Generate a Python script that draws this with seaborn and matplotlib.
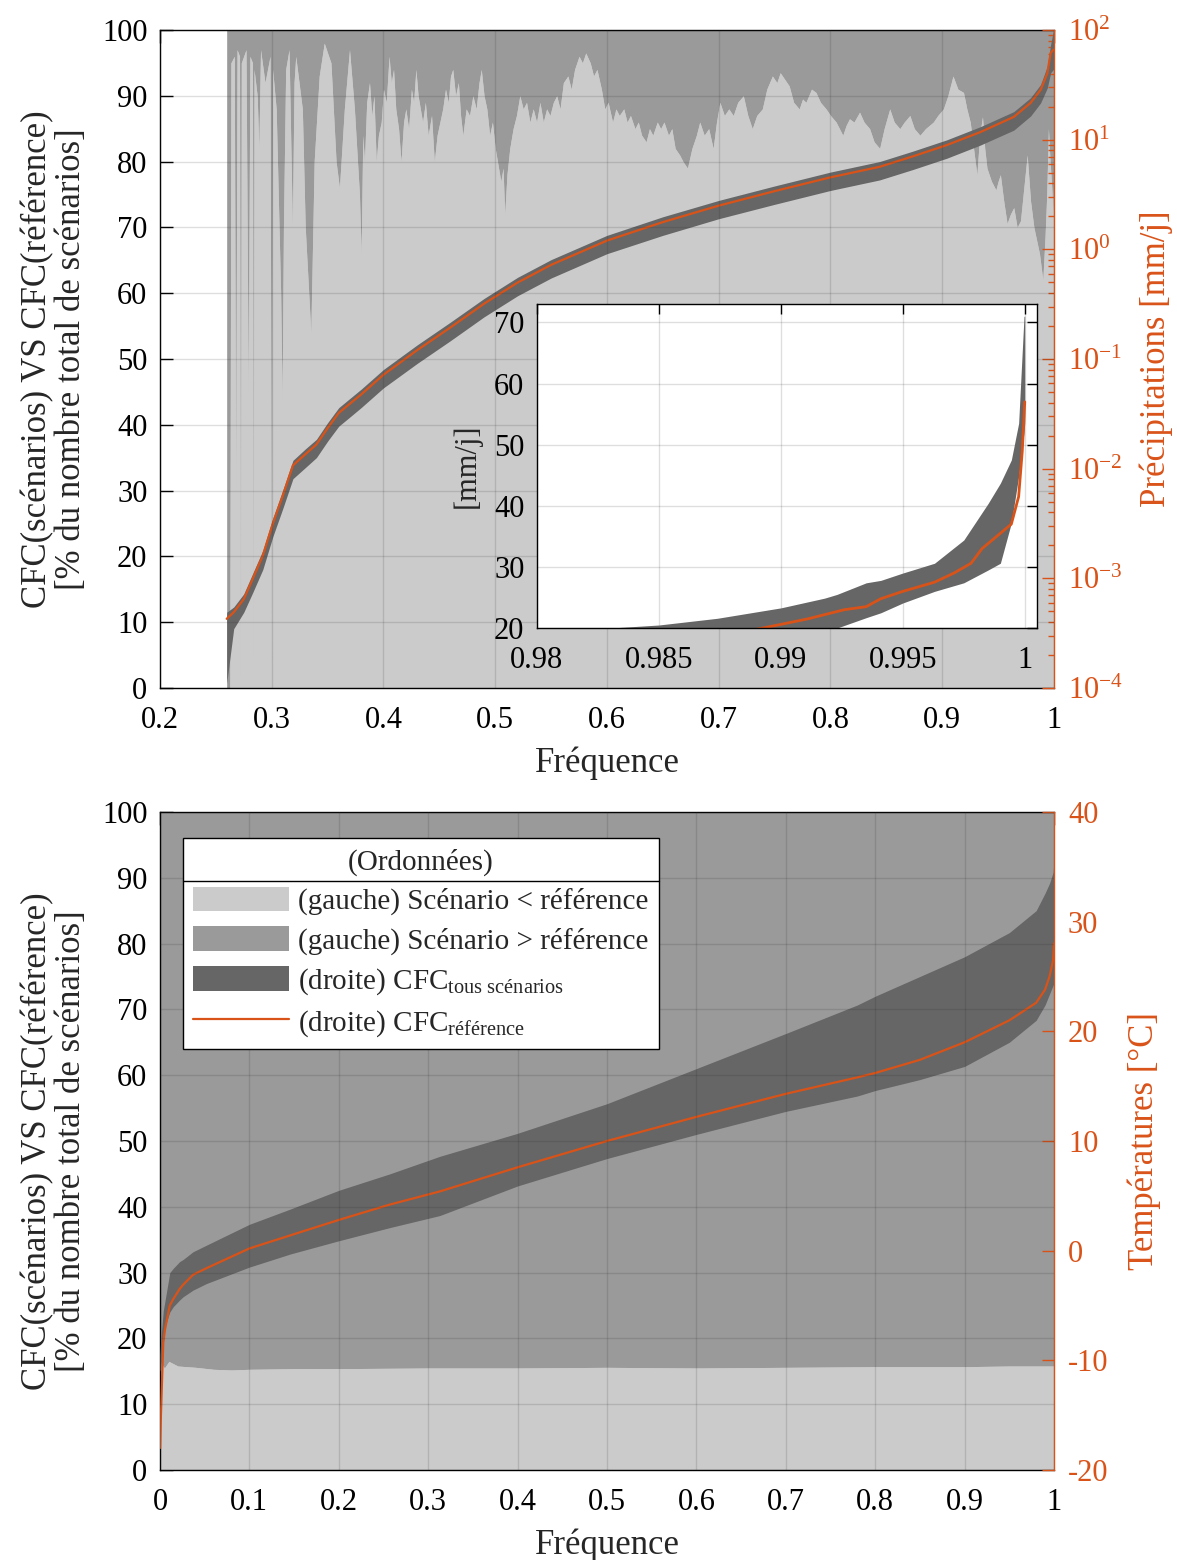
import matplotlib
matplotlib.use('Agg')
import matplotlib.pyplot as plt
import seaborn as sns
from matplotlib.patches import Patch
from matplotlib.lines import Line2D
from matplotlib.ticker import LogLocator, NullFormatter, LogFormatterMathtext

# ---------------- data ----------------
# top panel : share of scenarios below the reference (left axis, %)
freq_split_p = [0.2597, 0.2625, 0.2635, 0.2665, 0.2678, 0.2690, 0.2712, 0.2720, 0.2728, 0.2770,
                0.2790, 0.2805, 0.2828, 0.2835, 0.2842, 0.2870, 0.2885, 0.2900, 0.2940, 0.2985,
                0.2998, 0.3008, 0.3040, 0.3080, 0.3093, 0.3105, 0.3125, 0.3155, 0.3185, 0.3200,
                0.3215, 0.3274, 0.3300, 0.3350, 0.3380, 0.3425, 0.3470, 0.3530, 0.3576, 0.3606,
                0.3650, 0.3696, 0.3740, 0.3785,
                0.3800, 0.3815, 0.3830, 0.3850, 0.3875, 0.3895, 0.3915, 0.3935, 0.3955, 0.3980,
                0.4000, 0.4025, 0.4050, 0.4070, 0.4090, 0.4110, 0.4135, 0.4157, 0.4180, 0.4200,
                0.4225, 0.4250, 0.4270, 0.4290, 0.4310, 0.4330, 0.4350, 0.4375, 0.4400, 0.4430,
                0.4455, 0.4480, 0.4505, 0.4530, 0.4555, 0.4580, 0.4600, 0.4620, 0.4645, 0.4670,
                0.4690, 0.4710, 0.4740, 0.4770, 0.4800, 0.4830, 0.4855, 0.4875, 0.4900, 0.4925,
                0.4950, 0.4975, 0.5000, 0.5020, 0.5050, 0.5070, 0.5085, 0.5105, 0.5130, 0.5160,
                0.5190, 0.5220, 0.5250, 0.5280, 0.5310, 0.5340, 0.5370, 0.5400, 0.5430, 0.5460,
                0.5490, 0.5520, 0.5550, 0.5580, 0.5610, 0.5650, 0.5680, 0.5710, 0.5750, 0.5780,
                0.5810, 0.5850, 0.5880, 0.5910, 0.5950, 0.5980, 0.6010, 0.6050, 0.6080, 0.6110,
                0.6150, 0.6180, 0.6210, 0.6250, 0.6280, 0.6310, 0.6350, 0.6380, 0.6410, 0.6450,
                0.6480, 0.6510, 0.6550, 0.6580, 0.6610, 0.6650, 0.6680, 0.6720, 0.6760, 0.6800,
                0.6830, 0.6870, 0.6910, 0.6950, 0.6980, 0.7010, 0.7050, 0.7090, 0.7130, 0.7170,
                0.7220, 0.7260, 0.7300, 0.7340, 0.7390, 0.7430, 0.7480, 0.7520, 0.7550, 0.7590,
                0.7630, 0.7670, 0.7720, 0.7750, 0.7780, 0.7830, 0.7870, 0.7910, 0.7960, 0.8000,
                0.8050, 0.8080, 0.8110, 0.8140, 0.8170, 0.8210, 0.8260, 0.8300, 0.8350, 0.8390,
                0.8440, 0.8480, 0.8530, 0.8570, 0.8620, 0.8660, 0.8710, 0.8750, 0.8800, 0.8850,
                0.8920, 0.8960, 0.9010, 0.9050, 0.9096, 0.9140, 0.9190, 0.9220, 0.9250, 0.9280,
                0.9310, 0.9335, 0.9360, 0.9380, 0.9400, 0.9440, 0.9480, 0.9500, 0.9520, 0.9550,
                0.9580, 0.9610, 0.9640, 0.9670, 0.9700, 0.9730, 0.9760, 0.9790, 0.9820, 0.9845,
                0.9870, 0.9885, 0.9900, 0.9920, 0.9935, 0.9950, 0.9965, 0.9980, 0.9990, 1.0000]
split_p = [0, 0, 95, 96, 30, 97, 96, 2, 95, 97,
           45, 96, 95, 5, 94, 90, 82, 97, 92, 96,
           3, 94, 88, 60, 44, 70, 94, 97, 70, 92,
           96, 88, 70, 54, 80, 93, 98, 95, 80, 76,
           88, 97, 88, 75,
           66, 84, 80, 89, 92, 87, 90, 80, 84, 86,
           91, 89, 96, 92, 94, 88, 85, 80, 86, 88,
           85, 91, 89, 94, 90, 88, 86, 89, 84, 87,
           80, 84, 86, 88, 91, 89, 93, 94, 90, 92,
           87, 84, 88, 87, 90, 88, 92, 94, 90, 88,
           84, 86, 82, 80, 77, 79, 72, 78, 82, 85,
           87, 90, 88, 89, 86, 88, 86, 89, 86, 88,
           87, 89, 90, 88, 92, 93, 91, 94, 96, 95,
           96.5, 95, 93, 94, 91, 88, 89, 86, 88, 87,
           88, 86, 87, 85, 86, 84, 83, 85, 84, 86,
           85, 86, 84, 85, 82, 81, 80, 79, 82, 84,
           86, 84, 85, 82, 86, 89, 87, 88, 87, 89,
           90, 87, 85, 87, 88, 91, 93, 92, 93.5, 92.5,
           91.5, 89, 88, 89.5, 89, 91, 90.5, 89, 88, 87,
           86, 85, 84, 85.5, 86.5, 86, 87.5, 86, 85, 83,
           82, 85, 88, 86, 85, 86, 87, 85, 84, 85,
           86, 87, 88, 90, 93, 91, 90.5, 88, 86, 82,
           78, 84, 86.8, 82, 79, 77, 75.7, 77, 78, 74,
           70.6, 72, 73, 70, 71, 76, 81, 74, 70, 68,
           66, 64, 62, 68.6, 75, 85, 80, 76, 72, 80]

# top panel : precipitation CDFs (right axis, mm/j)
freq_p = [0.2597, 0.266, 0.275, 0.283, 0.292, 0.301, 0.310, 0.319, 0.33, 0.34,
          0.35, 0.36, 0.37, 0.38, 0.40, 0.43, 0.46, 0.49, 0.52, 0.55,
          0.60, 0.65, 0.70, 0.75, 0.80, 0.844, 0.874, 0.904, 0.934, 0.964,
          0.979, 0.988, 0.994, 0.997, 0.9995, 1.0]
p_ref = [4.27e-4, 4.9e-4, 6.46e-4, 9.9e-4, 1.61e-3, 3.16e-3, 5.73e-3, 0.0107, 0.0135, 0.0166,
         0.0234, 0.0322, 0.0391, 0.0474, 0.0718, 0.12, 0.194, 0.319, 0.497, 0.721,
         1.2, 1.77, 2.5, 3.39, 4.53, 5.65, 7.05, 8.91, 11.7, 16.1,
         21.6, 28.4, 40.2, 61.7, 66, 66]
p_low = [1.1e-4, 3.47e-4, 4.9e-4, 7.41e-4, 1.2e-3, 2.4e-3, 4.35e-3, 8.1e-3, 0.0102, 0.0126,
         0.0178, 0.0244, 0.0296, 0.036, 0.0545, 0.0908, 0.147, 0.242, 0.377, 0.547,
         0.912, 1.34, 1.9, 2.57, 3.44, 4.29, 5.35, 6.76, 8.91, 12.2,
         16.4, 21.6, 29.6, 40.7, 43.7, 43.7]
p_high = [4.9e-4, 5.47e-4, 7.21e-4, 1.107e-3, 1.79e-3, 3.53e-3, 6.4e-3, 0.0119, 0.0151, 0.0185,
          0.0262, 0.036, 0.0437, 0.053, 0.0802, 0.134, 0.217, 0.356, 0.555, 0.805,
          1.34, 1.98, 2.79, 3.78, 5.06, 6.31, 7.87, 9.95, 13.1, 18.0,
          24.1, 31.8, 46.8, 73.8, 100, 100]

# inset : zoom on the highest frequencies (mm/j)
freq_in_ref = [0.988, 0.989, 0.990, 0.9911, 0.9926, 0.9935, 0.9941, 0.9950, 0.9963, 0.9971,
               0.9978, 0.99825, 0.99885, 0.99945, 0.99975, 0.9999, 1.0]
in_ref = [19.5, 19.8, 20.6, 21.5, 23.0, 23.5, 24.8, 26.0, 27.5, 29.0,
          30.6, 33.0, 35.0, 37.0, 41.5, 49.0, 57.0]
freq_in_band = [0.982, 0.983, 0.985, 0.9874, 0.990, 0.9918, 0.9923, 0.9935, 0.9941, 0.9950,
                0.9963, 0.9975, 0.9985, 0.9990, 0.99945, 0.99975, 0.99997, 1.0]
in_low = [14.0, 15.0, 16.0, 17.0, 18.5, 19.6, 20.0, 21.7, 22.5, 24.1,
          26.0, 27.4, 29.5, 30.6, 37.2, 44.8, 52.0, 53.5]
in_high = [19.5, 20.0, 20.5, 21.6, 23.3, 24.9, 25.5, 27.4, 27.8, 29.0,
           30.6, 34.4, 40.4, 43.7, 47.5, 53.5, 71.0, 71.0]

# bottom panel : share of scenarios below the reference (left axis, %)
freq_split_t = [0.0, 0.005, 0.01, 0.02, 0.04, 0.06, 0.08, 0.1, 0.15, 0.2,
                0.3, 0.4, 0.5, 0.6, 0.7, 0.8, 0.9, 0.95, 1.0]
split_t = [16.5, 15.5, 16.5, 15.8, 15.6, 15.3, 15.2, 15.3, 15.4, 15.4,
           15.5, 15.5, 15.6, 15.5, 15.6, 15.7, 15.7, 15.8, 15.8]

# bottom panel : temperature CDFs (right axis, degC)
freq_t = [0.0, 0.0007, 0.0037, 0.0056, 0.011, 0.015, 0.022, 0.026, 0.037, 0.052,
          0.1, 0.146, 0.2, 0.257, 0.313, 0.4, 0.5, 0.6, 0.7, 0.78,
          0.8, 0.85, 0.9, 0.95, 0.98, 0.99, 0.995, 0.999, 1.0]
t_ref = [-18.0, -16.0, -8.4, -7.2, -5.0, -4.4, -3.5, -3.1, -2.2, -1.6,
         0.2, 1.4, 2.8, 4.2, 5.4, 7.6, 10.0, 12.2, 14.3, 15.8,
         16.2, 17.4, 19.0, 21.0, 22.6, 23.8, 25.0, 26.5, 28.0]
t_high = [-9.5, -8.4, -5.5, -4.6, -2.0, -1.6, -1.0, -0.8, -0.1, 0.5,
          2.4, 3.8, 5.5, 7.0, 8.6, 10.7, 13.4, 16.6, 19.8, 22.4,
          23.2, 25.0, 26.8, 29.0, 31.0, 32.6, 33.5, 34.5, 35.5]
t_low = [-11.0, -10.8, -8.5, -6.9, -5.6, -5.1, -4.5, -4.2, -3.6, -3.0,
         -1.5, -0.3, 0.9, 2.1, 3.2, 5.9, 8.4, 10.6, 12.7, 14.1,
         14.6, 15.6, 16.8, 19.0, 21.0, 22.4, 23.4, 24.2, 24.4]

xticks_top = [0.2, 0.3, 0.4, 0.5, 0.6, 0.7, 0.8, 0.9, 1.0]
xlabels_top = ['0.2', '0.3', '0.4', '0.5', '0.6', '0.7', '0.8', '0.9', '1']
xticks_bot = [0.0, 0.1, 0.2, 0.3, 0.4, 0.5, 0.6, 0.7, 0.8, 0.9, 1.0]
xlabels_bot = ['0', '0.1', '0.2', '0.3', '0.4', '0.5', '0.6', '0.7', '0.8', '0.9', '1']
xticks_in = [0.98, 0.985, 0.99, 0.995, 1.0]
xlabels_in = ['0.98', '0.985', '0.99', '0.995', '1']
yticks_left = list(range(0, 101, 10))
yticks_in = [20, 30, 40, 50, 60, 70]
yticks_temp = [-20, -10, 0, 10, 20, 30, 40]

legend_labels = ['(gauche) Scénario < référence',
                 '(gauche) Scénario > référence',
                 r'(droite) CFC$_{\mathrm{tous\ scénarios}}$',
                 r'(droite) CFC$_{\mathrm{référence}}$']

# ---------------- style ----------------
sns.set_theme(style='white')
plt.rcParams['font.family'] = ['Liberation Serif', 'DejaVu Serif']
plt.rcParams['mathtext.fontset'] = 'custom'
plt.rcParams['mathtext.rm'] = 'Liberation Serif'
plt.rcParams['mathtext.it'] = 'Liberation Serif:italic'
plt.rcParams['mathtext.bf'] = 'Liberation Serif:bold'
plt.rcParams['axes.unicode_minus'] = False

LIGHT = '#cbcbcb'
MED = '#9a9a9a'
DARK = '#666666'
ORANGE = '#d95319'
GRID = dict(color='#262626', alpha=0.15, linewidth=1.0)
TICK = 22
LAB = 25

fig = plt.figure(figsize=(11.77, 15.6), dpi=100)
rect_top = [0.1359, 0.5590, 0.7596, 0.4218]
rect_bot = [0.1359, 0.0577, 0.7596, 0.4218]


def make_panel(rect, xlim, xticks, xlabels):
    ax = fig.add_axes(rect)
    ax.set_xlim(*xlim)
    ax.set_ylim(0, 100)
    ax.set_xticks(xticks, xlabels)
    ax.set_yticks(yticks_left)
    ax.tick_params(direction='in', top=True, right=False, length=9, width=1,
                   labelsize=TICK, colors='black')
    ax.tick_params(axis='x', pad=13)
    ax.tick_params(axis='y', pad=9)
    for s in ax.spines.values():
        s.set_color('black')
        s.set_linewidth(1.0)
    ax.spines['right'].set_visible(False)
    ax.grid(False)
    ax.set_xlabel('Fréquence', fontsize=LAB, labelpad=8)
    ax.set_ylabel('CFC(scénarios) VS CFC(référence)\n[% du nombre total de scénarios]',
                  fontsize=LAB, labelpad=10, linespacing=1.05)

    ax2 = ax.twinx()
    ax2.tick_params(axis='y', direction='in', length=9, width=1, colors=ORANGE,
                    labelsize=TICK, pad=10)
    ax2.tick_params(axis='y', which='minor', direction='in', length=4.5, width=1,
                    colors=ORANGE)
    for name in ['left', 'top', 'bottom']:
        ax2.spines[name].set_visible(False)
    ax2.spines['right'].set_color(ORANGE)
    ax2.spines['right'].set_linewidth(1.0)
    ax2.grid(False)

    # transparent overlay that carries the grid above the bands
    axg = fig.add_axes(rect)
    axg.set_xlim(*xlim)
    axg.set_ylim(0, 100)
    axg.set_xticks(xticks)
    axg.set_yticks(yticks_left)
    axg.tick_params(length=0, labelbottom=False, labelleft=False)
    axg.patch.set_visible(False)
    for s in axg.spines.values():
        s.set_visible(False)
    axg.grid(True, **GRID)
    return ax, ax2, axg


# ---------------- top panel ----------------
ax, ax2, axg = make_panel(rect_top, (0.2, 1.0), xticks_top, xlabels_top)
ax.fill_between(freq_split_p, 0, split_p, color=LIGHT, lw=0)
ax.fill_between(freq_split_p, split_p, 100, color=MED, lw=0)

ax2.set_yscale('log')
ax2.set_ylim(1e-4, 1e2)
ax2.fill_between(freq_p, p_low, p_high, color=DARK, lw=0)
sns.lineplot(x=freq_p, y=p_ref, ax=ax2, color=ORANGE, lw=1.6, estimator=None, sort=False)
ax2.yaxis.set_major_locator(LogLocator(base=10, numticks=10))
ax2.yaxis.set_major_formatter(LogFormatterMathtext())
ax2.yaxis.set_minor_locator(LogLocator(base=10, subs=range(2, 10), numticks=100))
ax2.yaxis.set_minor_formatter(NullFormatter())
ax2.set_ylabel('Précipitations [mm/j]', color=ORANGE, fontsize=LAB, labelpad=12)

# inset
axi = fig.add_axes([0.4562, 0.5974, 0.4248, 0.2077])
axi.set_facecolor('white')
axi.fill_between(freq_in_band, in_low, in_high, color=DARK, lw=0)
sns.lineplot(x=freq_in_ref, y=in_ref, ax=axi, color=ORANGE, lw=2.0, estimator=None, sort=False)
axi.set_xlim(0.98, 1.0005)
axi.set_ylim(20, 73)
axi.set_xticks(xticks_in, xlabels_in)
axi.set_yticks(yticks_in)
axi.tick_params(direction='in', top=True, right=True, length=7, width=1,
                labelsize=TICK, colors='black')
axi.tick_params(axis='x', pad=13)
axi.tick_params(axis='y', pad=9)
for s in axi.spines.values():
    s.set_color('black')
    s.set_linewidth(1.0)
axi.grid(True, **GRID)
axi.set_xlabel('')
axi.set_ylabel('[mm/j]', fontsize=TICK, labelpad=9)

# ---------------- bottom panel ----------------
bx, bx2, bxg = make_panel(rect_bot, (0.0, 1.0), xticks_bot, xlabels_bot)
bx.fill_between(freq_split_t, 0, split_t, color=LIGHT, lw=0)
bx.fill_between(freq_split_t, split_t, 100, color=MED, lw=0)

bx2.set_ylim(-20, 40)
bx2.set_yticks(yticks_temp)
bx2.fill_between(freq_t, t_low, t_high, color=DARK, lw=0)
sns.lineplot(x=freq_t, y=t_ref, ax=bx2, color=ORANGE, lw=1.6, estimator=None, sort=False)
bx2.set_ylabel('Températures [°C]', color=ORANGE, fontsize=LAB, labelpad=14)

handles = [Patch(facecolor=LIGHT, edgecolor='none'),
           Patch(facecolor=MED, edgecolor='none'),
           Patch(facecolor=DARK, edgecolor='none'),
           Line2D([], [], color=ORANGE, lw=1.6)]
leg = bxg.legend(handles, legend_labels, title='(Ordonnées)', loc='upper left',
                 bbox_to_anchor=(0.0257, 0.9605), borderaxespad=0, fontsize=21,
                 title_fontsize=21, frameon=True, fancybox=False, shadow=False,
                 framealpha=1, edgecolor='black', handlelength=3.3, handleheight=0.93,
                 handletextpad=0.3, labelspacing=0.38, borderpad=0.35)
leg.get_frame().set_linewidth(1.0)

# separator under the legend title
fig.canvas.draw()
r = fig.canvas.get_renderer()
fb = leg.get_frame().get_window_extent(r)
tb = leg.get_title().get_window_extent(r)
ysep = tb.y0 - 5
fig.add_artist(Line2D([fb.x0 / fig.bbox.width, fb.x1 / fig.bbox.width],
                      [ysep / fig.bbox.height, ysep / fig.bbox.height],
                      transform=fig.transFigure, color='black', lw=1.0, zorder=10))

fig.savefig('out.png', dpi=100)
